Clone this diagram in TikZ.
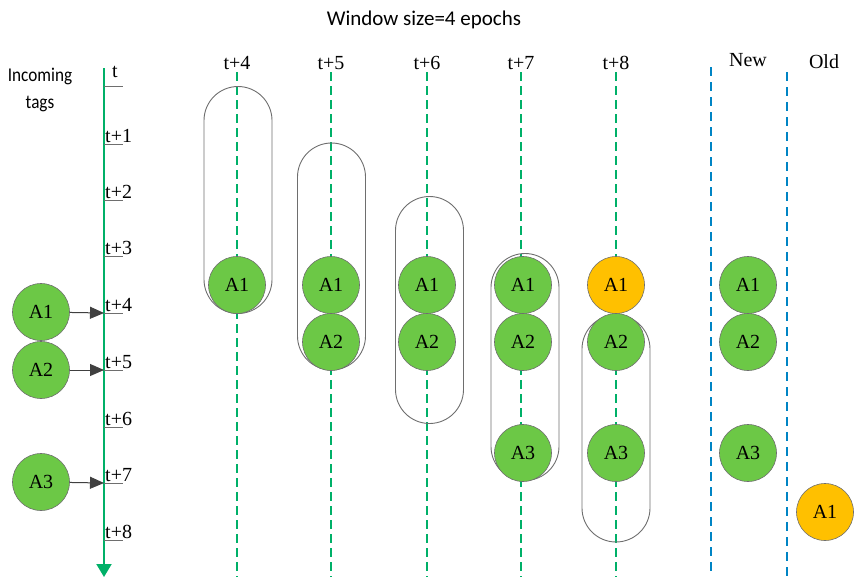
\documentclass[tikz,border=0pt]{standalone}
\usepackage{fontspec}
\setmainfont{Liberation Serif}
\newfontfamily\labelsans{Carlito}
\usetikzlibrary{arrows.meta}
\definecolor{axisgreen}{RGB}{0,176,104}
\definecolor{taggreen}{RGB}{108,200,70}
\definecolor{tagorange}{RGB}{255,192,0}
\definecolor{splitblue}{RGB}{0,132,196}
\definecolor{rimgray}{RGB}{110,110,110}
\tikzset{
  tag/.style={circle, draw=rimgray, line width=0.6pt, fill=taggreen, minimum size=57pt, inner sep=0pt, font=\fontsize{20}{20}\selectfont},
  oldtag/.style={tag, fill=tagorange},
  capsule/.style={draw=rimgray, line width=0.9pt, minimum width=68pt, minimum height=227pt, rounded corners=34pt, inner sep=0pt},
  epochline/.style={axisgreen, line width=1.8pt, dash pattern=on 9pt off 5pt},
  splitline/.style={splitblue, line width=1.5pt, dash pattern=on 9pt off 6pt},
  tickmark/.style={rimgray, line width=0.9pt},
  ticklabel/.style={anchor=west, inner sep=0pt, font=\fontsize{20}{20}\selectfont},
  head/.style={font=\fontsize{20}{20}\selectfont, inner sep=0pt},
  feed/.style={draw=black!75, line width=1pt, -{Triangle[length=14pt,width=12pt]}},
}
\begin{document}
\begin{tikzpicture}[x=1pt,y=-1pt]
\useasboundingbox (0,0) rectangle (856,576);

% title and axis caption
\node[font=\labelsans\fontsize{21}{21}\selectfont] (title) at (424,20) {Window size=4 epochs};
\node[font=\labelsans\fontsize{19.5}{27}\selectfont, align=center] (caption) at (40,90)
  {\scalebox{0.88}[1]{Incoming}\\\scalebox{0.88}[1]{tags}};

% time axis
\coordinate (axtop) at (104,68);
\coordinate (axbot) at (104,577);
\draw[axisgreen, line width=2pt, -{Triangle[length=13pt,width=15pt]}] (axtop) -- (axbot);

% tick marks and labels
\coordinate (tk0) at (104,86);
\coordinate (tk0e) at (123,86);
\draw[tickmark] (tk0) -- (tk0e);
\node[ticklabel] (lb0) at (112,72) {t};
\foreach \i/\y in {1/144,2/200,3/256,4/313,5/370,6/427,7/483,8/540}{
  \coordinate (tk\i) at (104,\y);
  \coordinate (tk\i e) at (123,\y);
  \draw[tickmark] (tk\i) -- (tk\i e);
  \node[ticklabel] (lb\i) at (105,\y-8) {t+\i};
}

% incoming tags
\node[tag] (in1) at (41,312) {A1};
\node[tag] (in2) at (41,370) {A2};
\node[tag] (in3) at (41,482) {A3};
\draw[feed] (in1) -- (tk4);
\draw[feed] (in2) -- (tk5);
\draw[feed] (in3) -- (tk7);

% epoch columns
\foreach \k/\x in {4/237,5/331,6/427,7/521,8/616}{
  \node[head] (h\k) at (\x,63) {t+\k};
  \coordinate (ct\k) at (\x,72);
  \coordinate (cb\k) at (\x,577);
  \draw[epochline] (ct\k) -- (cb\k);
}

% new / old separators
\node[head] (hnew) at (748,60) {New};
\node[head] (hold) at (824,62) {Old};
\coordinate (s1t) at (711,67);
\coordinate (s1b) at (711,577);
\coordinate (s2t) at (787,72);
\coordinate (s2b) at (787,577);
\draw[splitline] (s1t) -- (s1b);
\draw[splitline] (s2t) -- (s2b);

% sliding windows
\node[capsule] (w4) at (238,200) {};
\node[capsule] (w5) at (331.5,256.5) {};
\node[capsule] (w6) at (429.5,310) {};
\node[capsule] (w7) at (525,367) {};
\node[capsule] (w8) at (616,428.5) {};

% tags inside each window
\node[tag] (a41) at (237,285) {A1};

\node[tag] (a51) at (331,285) {A1};
\node[tag] (a52) at (331,342) {A2};

\node[tag] (a61) at (427,285) {A1};
\node[tag] (a62) at (427,342) {A2};

\node[tag] (a71) at (523,285) {A1};
\node[tag] (a72) at (523,342) {A2};
\node[tag] (a73) at (523,453) {A3};

\node[oldtag] (a81) at (616,285) {A1};
\node[tag] (a82) at (616,342) {A2};
\node[tag] (a83) at (616,453) {A3};

% resulting sets
\node[tag] (n1) at (748,285) {A1};
\node[tag] (n2) at (748,342) {A2};
\node[tag] (n3) at (748,453) {A3};
\node[oldtag] (o1) at (825,512) {A1};
\end{tikzpicture}
\end{document}
